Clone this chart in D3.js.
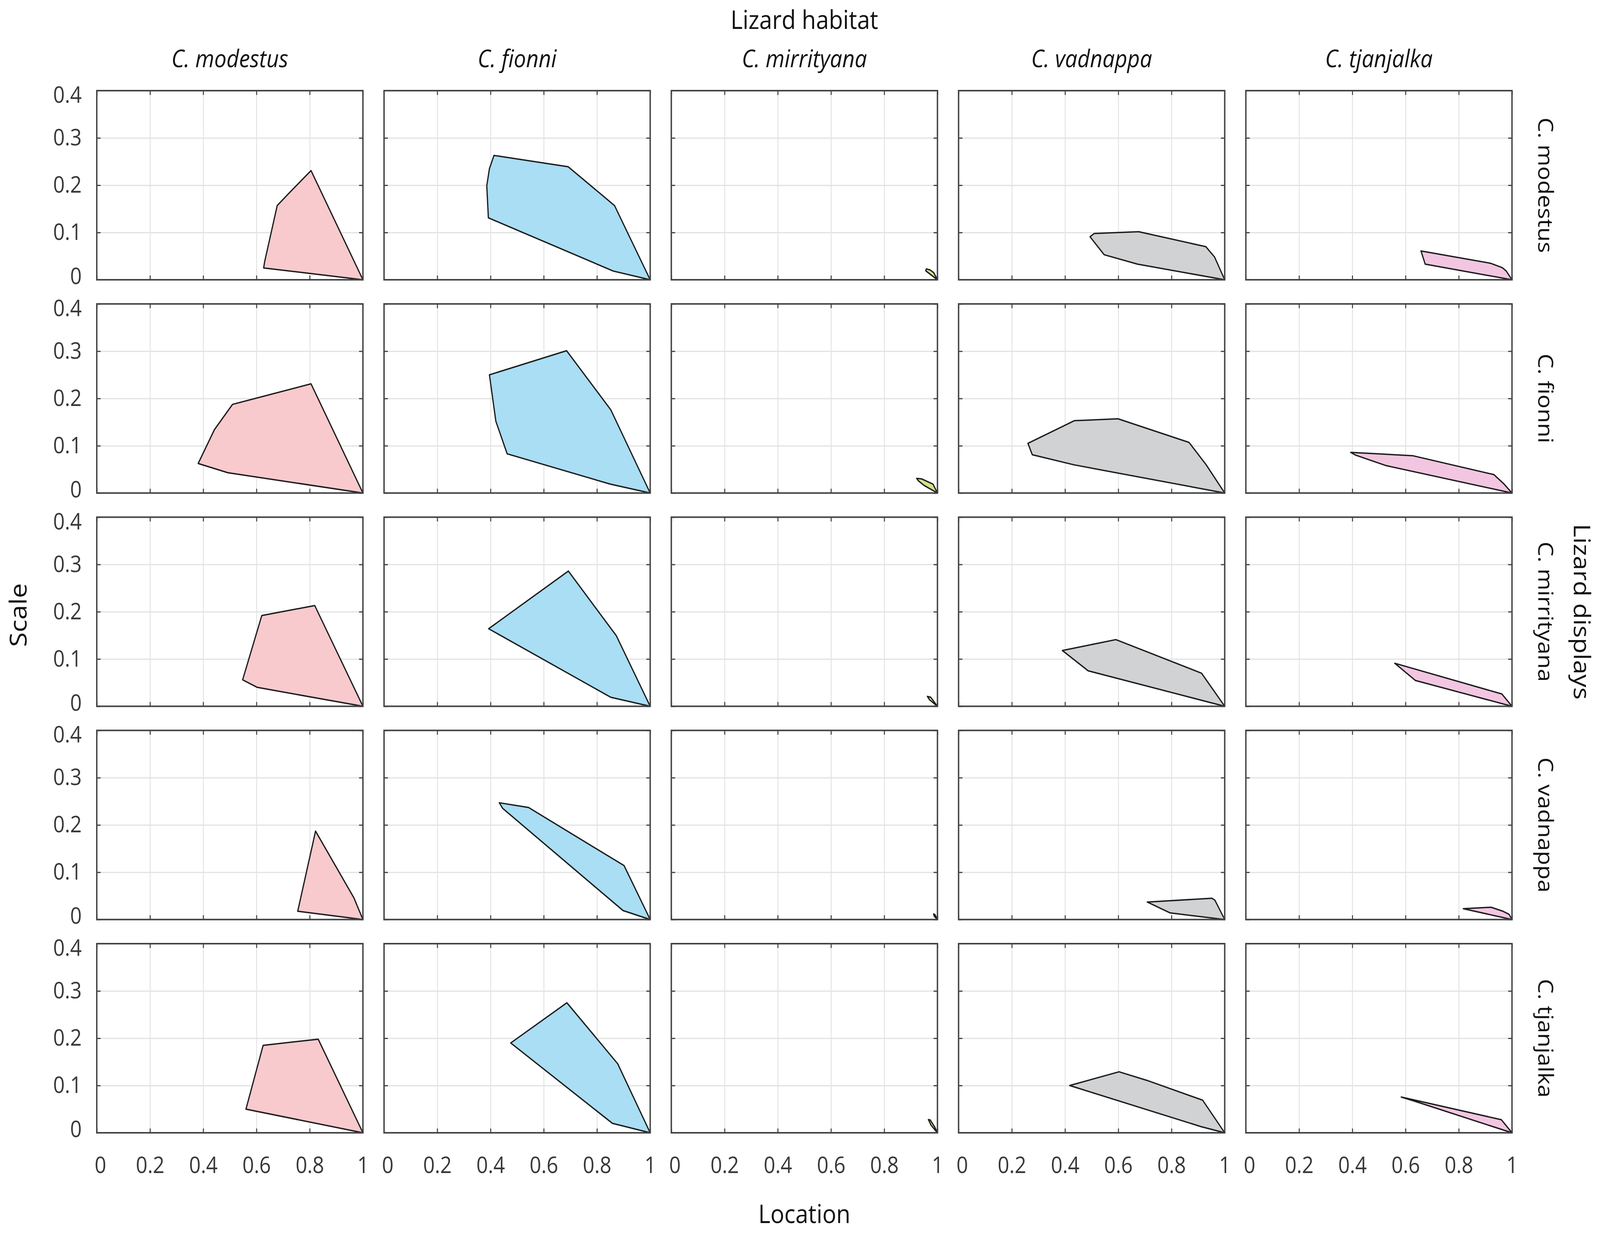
<!DOCTYPE html>
<html>
<head>
<meta charset="utf-8">
<script src="https://cdn.jsdelivr.net/npm/d3@7"></script>
<style>
  html, body { margin: 0; padding: 0; background: #fff; width: 100%; height: 100%; overflow: hidden; }
  svg { display: block; }
  text { font-family: "Open Sans", "Noto Sans", sans-serif; }
</style>
</head>
<body>
<script>
// ---------- data ----------
const habitatNames = ["C. modestus", "C. fionni", "C. mirrityana", "C. vadnappa", "C. tjanjalka"];
const displayNames = ["C. modestus", "C. fionni", "C. mirrityana", "C. vadnappa", "C. tjanjalka"];
const xTicks = [0, 0.2, 0.4, 0.6, 0.8, 1];
const yTicks = [0, 0.1, 0.2, 0.3, 0.4];
const habitatColors = ["#f8cacd", "#a9def4", "#d2e28a", "#d1d2d4", "#f2c6e1"];

// hull vertices [location, scale]; one array per habitat column, one polygon per display row
const hullsModestus = [
  [[0.805,0.231],[1,0],[0.627,0.025],[0.631,0.039],[0.678,0.157],[0.722,0.183]],
  [[0.805,0.231],[1,0],[0.4925,0.043],[0.381,0.0625],[0.442,0.134],[0.510,0.1875]],
  [[0.819,0.213],[1,0],[0.603,0.040],[0.548,0.056],[0.620,0.192]],
  [[0.822,0.187],[0.966,0.046],[1,0],[0.755,0.0175]],
  [[0.832,0.198],[1,0],[0.5605,0.050],[0.625,0.185]]
];
const hullsFionni = [
  [[0.413,0.263],[0.692,0.239],[0.866,0.157],[1,0],[0.861,0.0185],[0.392,0.131],[0.386,0.199],[0.396,0.235]],
  [[0.686,0.301],[0.852,0.176],[1,0],[0.849,0.019],[0.4626,0.083],[0.420,0.152],[0.396,0.250]],
  [[0.6925,0.286],[0.873,0.149],[1,0],[0.852,0.019],[0.393,0.164]],
  [[0.433,0.247],[0.543,0.237],[0.902,0.114],[1,0],[0.898,0.019],[0.446,0.235]],
  [[0.687,0.275],[0.878,0.146],[1,0],[0.858,0.020],[0.476,0.190]]
];
const hullsMirrityana = [
  [[0.958,0.023],[0.972,0.021],[0.986,0.015],[1,0],[0.956,0.019]],
  [[0.922,0.031],[0.94,0.030],[0.983,0.019],[1,0],[0.95,0.016],[0.928,0.026]],
  [[0.962,0.021],[0.975,0.019],[1,0],[0.97,0.014]],
  [[0.986,0.012],[0.991,0.010],[1,0],[0.988,0.007]],
  [[0.966,0.028],[0.973,0.027],[0.99,0.012],[1,0],[0.976,0.016]]
];
const hullsVadnappa = [
  [[0.510,0.098],[0.677,0.1016],[0.929,0.070],[0.962,0.048],[1,0],[0.6726,0.033],[0.547,0.053],[0.494,0.091]],
  [[0.435,0.153],[0.599,0.157],[0.866,0.107],[0.930,0.060],[1,0],[0.434,0.0596],[0.277,0.081],[0.2606,0.105]],
  [[0.591,0.141],[0.913,0.070],[1,0],[0.487,0.075],[0.390,0.118]],
  [[0.709,0.037],[0.952,0.045],[0.963,0.041],[1,0],[0.795,0.014]],
  [[0.603,0.129],[0.707,0.111],[0.917,0.069],[1,0],[0.911,0.013],[0.4175,0.100]]
];
const hullsTjanjalka = [
  [[0.658,0.061],[0.919,0.035],[0.964,0.0255],[0.979,0.018],[1,0],[0.674,0.033]],
  [[0.394,0.086],[0.6265,0.079],[0.932,0.039],[0.9685,0.020],[1,0],[0.527,0.058],[0.413,0.080]],
  [[0.5595,0.091],[0.962,0.026],[1,0],[0.6375,0.0545]],
  [[0.817,0.023],[0.921,0.026],[0.964,0.018],[0.989,0.011],[1,0]],
  [[0.584,0.0756],[0.960,0.0277],[1,0],[0.636,0.0665]]
];
const hullsByHabitat = [hullsModestus, hullsFionni, hullsMirrityana, hullsVadnappa, hullsTjanjalka];

// ---------- layout ----------
const WIDTH = 4563, HEIGHT = 3158;
const PW = 759, PH = 484;
const left0 = 276, colStep = 819.25;
const top0 = 232, rowStep = 545.75;
const gridRight = left0 + 4 * colStep + PW;
const gridBottom = top0 + 4 * rowStep + PH;
const cx = (left0 + gridRight) / 2;
const cy = (top0 + gridBottom) / 2;

const svg = d3.select("body").append("svg")
  .attr("width", "100%").attr("height", "100%")
  .style("width", "100vw").style("height", "100vh")
  .attr("viewBox", `0 0 ${WIDTH} ${HEIGHT}`)
  .attr("preserveAspectRatio", "none");
svg.append("rect").attr("width", WIDTH).attr("height", HEIGHT).attr("fill", "#fff");

const x = d3.scaleLinear().domain([0, 1]).range([0, PW]);
const y = d3.scaleLinear().domain([0, 0.4]).range([PH, 0]);
const fmt = d => d3.format("~g")(d);
const line = d3.line().x(d => x(d[0])).y(d => y(d[1]));

function styleAxis(sel, lineColor, lineWidth) {
  sel.select(".domain").remove();
  sel.selectAll(".tick line").attr("stroke", lineColor).attr("stroke-width", lineWidth);
}

for (let r = 0; r < 5; r++) {
  for (let c = 0; c < 5; c++) {
    const g = svg.append("g")
      .attr("transform", `translate(${left0 + c * colStep},${top0 + r * rowStep})`);

    // grid
    g.append("g").attr("transform", `translate(0,${PH})`)
      .call(d3.axisBottom(x).tickValues(xTicks.slice(1, -1)).tickSize(-PH).tickFormat(""))
      .call(s => styleAxis(s, "#e2e2e2", 2.5));
    g.append("g")
      .call(d3.axisLeft(y).tickValues(yTicks.slice(1, -1)).tickSize(-PW).tickFormat(""))
      .call(s => styleAxis(s, "#e2e2e2", 3));

    // hull polygon
    g.append("path")
      .attr("d", line(hullsByHabitat[c][r]) + "Z")
      .attr("fill", habitatColors[c])
      .attr("stroke", "#1c1c1c")
      .attr("stroke-width", 3.5)
      .attr("stroke-linejoin", "round");

    // inward ticks on all sides
    g.append("g").attr("transform", `translate(0,${PH})`)
      .call(d3.axisBottom(x).tickValues(xTicks).tickSize(-11).tickFormat(""))
      .call(s => styleAxis(s, "#444", 3));
    g.append("g")
      .call(d3.axisTop(x).tickValues(xTicks).tickSize(-11).tickFormat(""))
      .call(s => styleAxis(s, "#444", 3));
    g.append("g")
      .call(d3.axisLeft(y).tickValues(yTicks).tickSize(-11).tickFormat(""))
      .call(s => styleAxis(s, "#444", 3));
    g.append("g").attr("transform", `translate(${PW},0)`)
      .call(d3.axisRight(y).tickValues(yTicks).tickSize(-11).tickFormat(""))
      .call(s => styleAxis(s, "#444", 3));

    // box
    g.append("rect").attr("width", PW).attr("height", PH)
      .attr("fill", "none").attr("stroke", "#444").attr("stroke-width", 4);

    // tick labels
    if (c === 0) {
      const ay = g.append("g")
        .call(d3.axisLeft(y).tickValues(yTicks).tickSize(0).tickPadding(43).tickFormat(fmt));
      ay.select(".domain").remove();
      ay.selectAll("text").attr("font-size", 58).attr("fill", "#383838")
        .attr("font-family", "'Open Sans', sans-serif")
        .attr("transform", d => d === 0.4 ? "translate(0,12)" : (d === 0 ? "translate(0,-8)" : null));
    }
    if (r === 4) {
      const ax = g.append("g").attr("transform", `translate(0,${PH})`)
        .call(d3.axisBottom(x).tickValues(xTicks).tickSize(0).tickPadding(62).tickFormat(fmt));
      ax.select(".domain").remove();
      ax.selectAll("text").attr("font-size", 58).attr("fill", "#383838")
        .attr("font-family", "'Open Sans', sans-serif")
        .attr("transform", d => d === 0 ? "translate(10,0)" : null);
    }
  }
}

// column titles (habitat)
habitatNames.forEach((name, c) => {
  svg.append("text")
    .attr("x", left0 + c * colStep + PW / 2)
    .attr("y", 172)
    .attr("text-anchor", "middle")
    .attr("font-size", 62)
    .attr("font-style", "italic")
    .attr("fill", "#111")
    .text(name);
});

// row titles (displays), rotated clockwise
displayNames.forEach((name, r) => {
  const yc = top0 + r * rowStep + PH / 2;
  svg.append("text")
    .attr("transform", `translate(4387,${yc}) rotate(90)`)
    .attr("text-anchor", "middle")
    .attr("font-size", 60)
    .attr("fill", "#111")
    .text(name);
});

// axis / facet titles
svg.append("text")
  .attr("x", cx).attr("y", 74)
  .attr("text-anchor", "middle").attr("font-size", 66).attr("fill", "#111")
  .text("Lizard habitat");

svg.append("text")
  .attr("x", cx).attr("y", 3130)
  .attr("text-anchor", "middle").attr("font-size", 66).attr("fill", "#111")
  .text("Location");

svg.append("text")
  .attr("transform", `translate(76,1574) rotate(-90)`)
  .attr("text-anchor", "middle").attr("font-size", 68).attr("fill", "#111")
  .text("Scale");

svg.append("text")
  .attr("transform", `translate(4488,${cy}) rotate(90)`)
  .attr("text-anchor", "middle").attr("font-size", 66).attr("fill", "#111")
  .text("Lizard displays");
</script>
</body>
</html>
